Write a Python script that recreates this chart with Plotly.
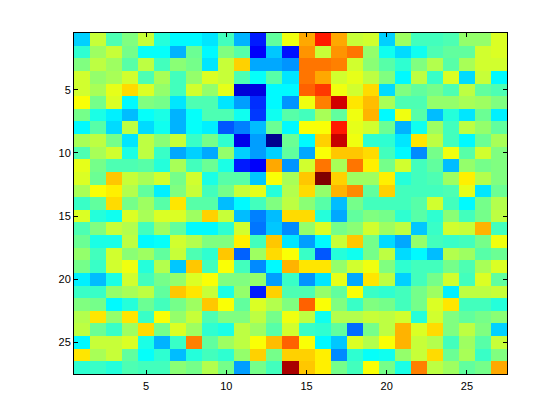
import plotly.graph_objects as go

row_01 = [33,57,45,50,57,41,37,37,35,44,30,15,47,61,71,85,71,57,58,33,53,44,44,45,52,52,59]
row_02 = [42,53,57,49,38,38,30,48,37,50,46,12,32,14,73,57,73,76,52,39,34,39,45,47,47,58,59]
row_03 = [50,56,53,46,56,44,51,49,35,57,67,29,29,27,76,76,75,58,51,46,42,50,55,46,54,58,58]
row_04 = [58,52,54,58,45,54,44,52,59,57,45,38,46,35,76,71,58,60,56,50,37,56,43,59,34,57,37]
row_05 = [58,54,60,66,59,52,44,58,52,60,8,9,37,37,78,82,61,58,66,34,50,47,49,45,56,47,45]
row_06 = [62,49,59,37,50,49,35,45,45,35,28,17,37,27,61,75,92,65,69,54,45,45,52,52,54,53,50]
row_07 = [49,40,36,31,38,40,30,38,45,45,39,18,39,46,44,54,47,61,70,37,61,46,31,41,35,48,36]
row_08 = [37,46,34,56,34,39,30,38,36,21,25,31,48,37,62,62,85,60,58,48,30,39,53,44,56,52,47]
row_09 = [54,56,49,35,56,51,57,43,49,42,10,28,0,48,37,67,93,61,42,42,35,65,56,44,37,48,54]
row_10 = [45,54,58,40,56,43,29,33,29,52,33,28,33,47,29,62,68,68,66,44,37,26,49,61,46,58,50]
row_11 = [60,49,45,45,46,41,54,44,48,40,15,12,71,27,58,76,54,76,64,49,58,44,47,31,52,49,50]
row_12 = [59,48,68,57,54,58,49,58,40,46,46,32,62,54,68,100,67,53,53,64,41,44,45,53,64,55,50]
row_13 = [54,62,64,55,47,36,50,57,44,49,57,60,41,55,66,52,70,74,47,67,44,44,44,45,60,35,48]
row_14 = [43,47,66,49,53,46,65,46,46,31,37,44,50,56,51,46,31,49,44,44,44,46,58,44,37,49,55]
row_15 = [59,41,39,59,54,59,59,53,67,57,31,25,31,66,66,41,29,47,50,49,42,46,42,51,44,49,56]
row_16 = [45,50,57,55,44,53,47,37,37,42,58,24,32,26,52,59,49,51,58,53,56,32,43,58,57,70,44]
row_17 = [48,40,40,56,37,38,58,55,50,50,64,44,68,35,28,37,57,68,49,34,29,52,44,43,44,49,61]
row_18 = [52,44,58,51,53,47,57,45,42,68,22,53,66,62,43,21,41,39,49,56,34,37,31,55,53,46,48]
row_19 = [49,43,58,61,41,55,32,68,44,62,44,26,37,70,65,65,52,58,61,50,42,44,44,49,45,54,59]
row_20 = [36,31,40,58,44,49,52,59,62,50,50,52,28,43,27,35,60,29,65,56,33,44,49,58,44,59,47]
row_21 = [43,43,52,54,56,47,68,65,57,40,52,15,67,45,45,52,47,62,43,42,44,49,53,36,56,56,57]
row_22 = [50,49,37,41,48,44,49,53,68,62,47,59,55,50,78,62,50,43,50,49,44,49,59,65,44,44,41]
row_23 = [55,65,52,65,43,62,52,57,45,50,50,56,49,61,56,39,55,55,57,56,58,41,58,50,47,49,51]
row_24 = [56,48,43,53,66,49,59,53,42,40,56,53,46,58,43,42,47,23,49,56,70,59,66,50,56,50,33]
row_25 = [37,57,57,59,40,30,43,75,47,53,56,62,69,78,62,37,32,59,55,62,70,57,55,44,53,46,57]
row_26 = [65,54,57,47,38,42,31,41,44,42,52,67,49,67,67,64,26,42,38,39,52,57,66,48,54,43,50]
row_27 = [42,43,41,45,44,44,51,49,55,49,28,49,44,96,68,64,49,44,62,49,40,75,56,53,47,49,71]

rows = [row_01,row_02,row_03,row_04,row_05,row_06,row_07,row_08,row_09,row_10,row_11,row_12,row_13,
        row_14,row_15,row_16,row_17,row_18,row_19,row_20,row_21,row_22,row_23,row_24,row_25,row_26,row_27]
index = list(range(1, 28))
x_ticks = [5, 10, 15, 20, 25]
y_ticks = [5, 10, 15, 20, 25]

jet = [[0, "rgb(0,0,143)"], [0.125, "rgb(0,0,255)"], [0.375, "rgb(0,255,255)"],
       [0.625, "rgb(255,255,0)"], [0.875, "rgb(255,0,0)"], [1, "rgb(128,0,0)"]]

fig = go.Figure(go.Heatmap(z=rows, x=index, y=index, colorscale=jet, zmin=0, zmax=100,
                           showscale=False, xgap=0, ygap=0))
axis = dict(showgrid=False, zeroline=False, showline=True, linecolor="black", linewidth=1,
            mirror="ticks", ticks="inside", ticklen=4, tickcolor="black", tickwidth=1,
            tickfont=dict(family="Liberation Sans", size=11, color="black"))
fig.update_xaxes(range=[0.5, 27.5], tickmode="array", tickvals=x_ticks, ticktext=[str(v) for v in x_ticks],
                 ticklabelstandoff=2, **axis)
fig.update_yaxes(range=[27.5, 0.5], tickmode="array", tickvals=y_ticks, ticktext=[str(v) for v in y_ticks], **axis)
fig.update_layout(width=560, height=420, margin=dict(l=66, r=61, t=25, b=54),
                  paper_bgcolor="white", plot_bgcolor="white")
fig.write_html("out.html")
